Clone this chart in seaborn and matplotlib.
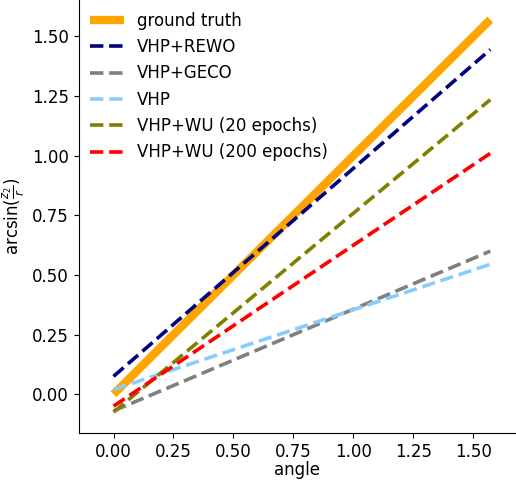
import numpy as np
import pandas as pd
import matplotlib
matplotlib.use("Agg")
import matplotlib.pyplot as plt
import seaborn as sns

# angle range: 0 .. pi/2
angle = [0.0, np.pi / 2]

ground_truth = [0.0, np.pi / 2]
vhp_rewo = [0.075, 1.445]
vhp_geco = [-0.07, 0.60]
vhp = [0.02, 0.545]
vhp_wu20 = [-0.075, 1.235]
vhp_wu200 = [-0.05, 1.01]

labels = ["ground truth", "VHP+REWO", "VHP+GECO", "VHP",
          "VHP+WU (20 epochs)", "VHP+WU (200 epochs)"]
colors = ["orange", "navy", "grey", "lightskyblue", "olive", "red"]
series = [ground_truth, vhp_rewo, vhp_geco, vhp, vhp_wu20, vhp_wu200]

plt.rcParams["font.family"] = ["DejaVu Sans"]
plt.rcParams["font.size"] = 12

fig = plt.figure(figsize=(5.16, 4.84), dpi=100)
ax = fig.add_axes([78.5 / 516, 51 / 484, (516 - 78.5) / 516, 433 / 484])

for lab, col, vals in zip(labels, colors, series):
    df = pd.DataFrame({"angle": angle, "val": vals})
    if lab == "ground truth":
        sns.lineplot(x="angle", y="val", data=df, color=col, lw=6, label=lab,
                     solid_capstyle="butt", ax=ax)
    else:
        sns.lineplot(x="angle", y="val", data=df, color=col, lw=2.6,
                     linestyle="--", dash_capstyle="butt", label=lab, ax=ax)

ax.set_xlim(-0.146, 1.678)
ax.set_ylim(-0.1625, 1.653)
ax.set_xticks([0, 0.25, 0.5, 0.75, 1.0, 1.25, 1.5])
ax.set_yticks([0, 0.25, 0.5, 0.75, 1.0, 1.25, 1.5])
ax.tick_params(labelsize=12)
ax.set_xlabel("angle", fontsize=12)
ax.set_ylabel(r"arcsin($\frac{z_2}{r}$)", fontsize=12)
ax.yaxis.set_label_coords(-0.118, 0.5)
ax.xaxis.set_label_coords(0.5, -0.065)
sns.despine(ax=ax)
ax.legend(loc="upper left", frameon=False, fontsize=12, borderaxespad=0.3)

fig.savefig("out.png", dpi=100)
